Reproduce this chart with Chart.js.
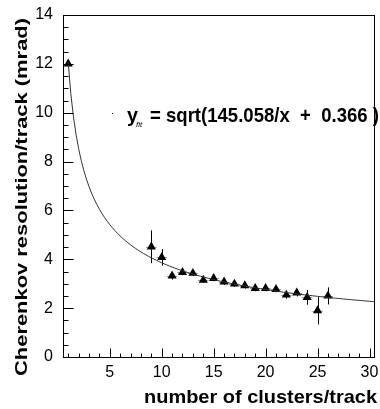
<!DOCTYPE html>
<html>
<head>
<meta charset="utf-8">
<script src="https://cdn.jsdelivr.net/npm/chart.js@4.4.0/dist/chart.umd.min.js"></script>
<style>
html, body { margin: 0; padding: 0; background: #fff; }
canvas { display: block; }
</style>
</head>
<body>
<canvas id="resChart" width="380" height="409"></canvas>
<script>
// measured points: clusters per track vs resolution (mrad)
const clusters = [1, 9, 10, 11, 12, 13, 14, 15, 16, 17, 18, 19, 20, 21, 22, 23, 24, 25, 26];
const resolution = [12.0, 4.51, 4.08, 3.32, 3.47, 3.43, 3.15, 3.22, 3.08, 2.99, 2.92, 2.81, 2.81, 2.77, 2.54, 2.63, 2.44, 1.9, 2.5];
const resolutionErr = [0.1, 0.67, 0.34, 0.15, 0.12, 0.12, 0.12, 0.12, 0.12, 0.12, 0.12, 0.12, 0.12, 0.12, 0.15, 0.15, 0.3, 0.57, 0.35];
const clusterErr = [0.5, 0.5, 0.5, 0.5, 0.5, 0.5, 0.5, 0.5, 0.5, 0.5, 0.5, 0.5, 0.5, 0.5, 0.5, 0.5, 0.5, 0.5, 0.5];

const xTickLabels = [5, 10, 15, 20, 25, 30];
const yTickLabels = [0, 2, 4, 6, 8, 10, 12, 14];

const xTitle = 'number of clusters/track';
const yTitle = 'Cherenkov resolution/track (mrad)';

// fit result shown on the plot
const fitA = 145.058;
const fitB = 0.366;
const fitFrom = 1;
const fitTo = 30.5;

const fitCurve = [];
for (let x = fitFrom; x <= fitTo + 1e-9; x += 0.25) {
    fitCurve.push({ x: x, y: Math.sqrt(fitA / x + fitB) });
}

const points = clusters.map((c, i) => ({ x: c, y: resolution[i] }));

const FONT = '"Liberation Sans", Arial, sans-serif';

// draw text squeezed/stretched to a given width
function fitText(ctx, text, x, y, width, rotate) {
    const w = ctx.measureText(text).width;
    ctx.save();
    ctx.translate(x, y);
    if (rotate) ctx.rotate(-Math.PI / 2);
    ctx.scale(width / w, 1);
    ctx.fillText(text, 0, 0);
    ctx.restore();
}

// error bars under the markers
const errorBars = {
    id: 'errorBars',
    beforeDatasetsDraw(chart) {
        const { ctx, scales: { x, y } } = chart;
        ctx.save();
        ctx.lineWidth = 1;
        clusters.forEach((c, i) => {
            const px = Math.round(x.getPixelForValue(c)) + 0.5;
            const py = Math.round(y.getPixelForValue(resolution[i])) + 0.5;
            ctx.strokeStyle = '#000';
            ctx.beginPath();
            ctx.moveTo(px, y.getPixelForValue(resolution[i] + resolutionErr[i]));
            ctx.lineTo(px, y.getPixelForValue(resolution[i] - resolutionErr[i]));
            ctx.stroke();
            ctx.strokeStyle = '#999';
            ctx.beginPath();
            ctx.moveTo(x.getPixelForValue(c - clusterErr[i]), py);
            ctx.lineTo(x.getPixelForValue(c + clusterErr[i]), py);
            ctx.stroke();
        });
        ctx.restore();
    }
};

// frame, inward ticks, axis titles and the fit label
const frame = {
    id: 'frame',
    afterDraw(chart) {
        const { ctx, chartArea: a, scales: { x, y } } = chart;
        ctx.save();
        ctx.strokeStyle = '#000';
        ctx.lineWidth = 1;
        ctx.strokeRect(Math.round(a.left) + 0.5, Math.round(a.top) + 0.5,
            Math.round(a.right - a.left) - 1, Math.round(a.bottom - a.top));

        const bottom = Math.round(a.bottom) + 0.5;
        ctx.beginPath();
        for (let v = 1; v <= 30; v++) {
            const px = Math.round(x.getPixelForValue(v)) + 0.5;
            const len = v % 5 === 0 ? 9 : 4;
            ctx.moveTo(px, bottom);
            ctx.lineTo(px, bottom - len);
        }
        const left = Math.round(a.left) + 0.5;
        for (let v = 0.5; v < 14; v += 0.5) {
            const py = Math.round(y.getPixelForValue(v)) + 0.5;
            const len = v % 2 === 0 ? 10 : 5;
            ctx.moveTo(left, py);
            ctx.lineTo(left + len, py);
        }
        ctx.stroke();

        ctx.fillStyle = '#000';
        ctx.textBaseline = 'alphabetic';
        ctx.textAlign = 'left';

        // axis titles
        ctx.font = 'bold 19px ' + FONT;
        fitText(ctx, xTitle, 144, 403, 233, false);
        ctx.font = 'bold 17px ' + FONT;
        fitText(ctx, yTitle, 27, 376, 358, true);

        // fit label
        ctx.fillRect(112, 113, 1, 1);
        ctx.font = 'bold 21px ' + FONT;
        fitText(ctx, 'y', 127, 122, 11, false);
        ctx.font = 'italic 8px ' + FONT;
        ctx.fillText('fit', 136, 127);
        ctx.font = 'bold 21px ' + FONT;
        fitText(ctx, '= sqrt(' + fitA.toFixed(3) + '/x  +  ' + fitB.toFixed(3) + ' )', 150, 122, 229, false);
        ctx.restore();
    }
};

const tickFont = { family: FONT, size: 16 };

new Chart(document.getElementById('resChart'), {
    type: 'scatter',
    data: {
        datasets: [{
            type: 'line',
            data: fitCurve,
            borderColor: '#333',
            borderWidth: 1,
            pointRadius: 0,
            tension: 0,
            fill: false
        }, {
            data: points,
            pointStyle: 'triangle',
            pointRadius: 5.3,
            backgroundColor: '#000',
            borderColor: '#000',
            borderWidth: 0
        }]
    },
    options: {
        responsive: false,
        animation: false,
        layout: { padding: { top: 15, right: 2, left: 0, bottom: 0 } },
        plugins: { legend: { display: false }, tooltip: { enabled: false } },
        scales: {
            x: {
                type: 'linear',
                min: 0.5,
                max: 30.5,
                afterBuildTicks: s => { s.ticks = xTickLabels.map(v => ({ value: v })); },
                afterFit: s => { s.height = 52; s.paddingLeft = 0; s.paddingRight = 0; },
                grid: { display: false, drawTicks: false },
                border: { display: false },
                ticks: { font: tickFont, color: '#000', padding: 6, maxRotation: 0, autoSkip: false }
            },
            y: {
                type: 'linear',
                min: 0,
                max: 14,
                afterBuildTicks: s => { s.ticks = yTickLabels.map(v => ({ value: v })); },
                afterFit: s => { s.width = 63; s.paddingTop = 0; s.paddingBottom = 0; },
                grid: { display: false, drawTicks: false },
                border: { display: false },
                ticks: { font: tickFont, color: '#000', padding: 10, autoSkip: false }
            }
        }
    },
    plugins: [errorBars, frame]
});
</script>
</body>
</html>
